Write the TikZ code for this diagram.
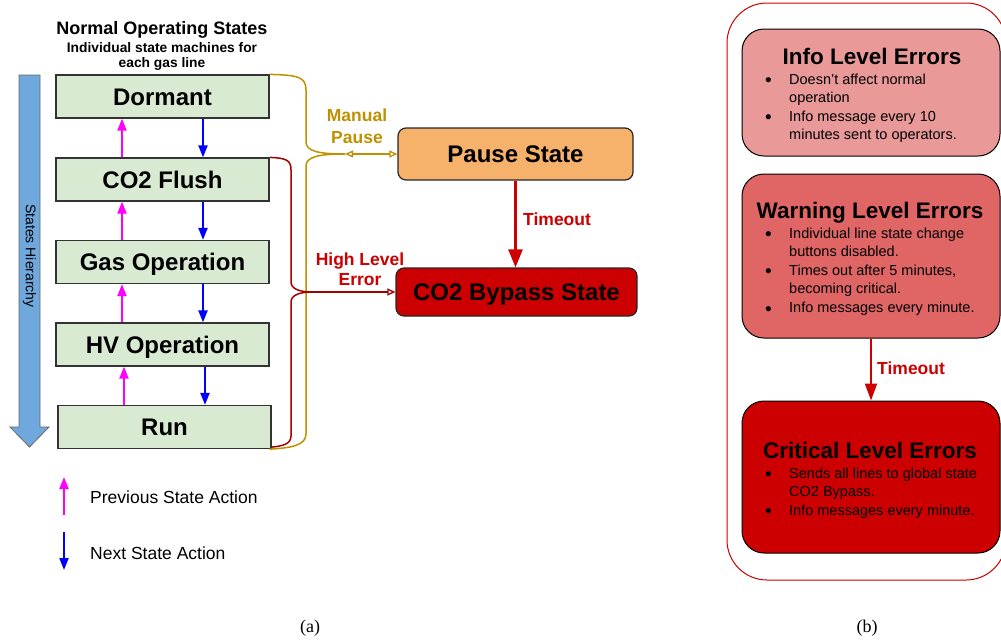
\documentclass[tikz,border=0pt]{standalone}
\usepackage{fontspec}
\setmainfont{Liberation Sans}
\newfontfamily\capserif{Liberation Serif}
\usetikzlibrary{arrows.meta}
\definecolor{boxgreen}{HTML}{D9EAD3}
\definecolor{hierblue}{HTML}{6FA8DC}
\definecolor{pauseorange}{HTML}{F6B26B}
\definecolor{critred}{HTML}{CC0000}
\definecolor{warnred}{HTML}{E06666}
\definecolor{inforose}{HTML}{EA9999}
\definecolor{goldline}{HTML}{BF9000}
\definecolor{bracered}{HTML}{A30000}
\definecolor{prevmag}{HTML}{FF00FF}
\definecolor{nextblue}{HTML}{0000FF}
\newcommand{\bigbul}{\raisebox{-2.6pt}{\fontsize{19}{18.6}\selectfont\textbullet}}
\begin{document}
\begin{tikzpicture}[x=1pt,y=-1pt,
  statebox/.style={draw=black!80, line width=1.2pt, fill=boxgreen, minimum width=213pt, minimum height=43pt, inner sep=0pt, text height=17.5pt, text depth=0pt, font=\fontsize{24}{28}\selectfont\bfseries},
  globalbox/.style={draw=black!85, line width=1.2pt, rounded corners=8pt, inner sep=0pt, text height=17.5pt, text depth=0pt, font=\fontsize{24}{28}\selectfont\bfseries},
  errbox/.style={draw=black, line width=1pt, rounded corners=22pt, minimum width=258pt, inner sep=0pt},
  errtitle/.style={anchor=base, inner sep=0pt, font=\fontsize{22.5}{26}\selectfont\bfseries},
  bullets/.style={anchor=base west, inner sep=0pt, font=\fontsize{14.5}{18.6}\selectfont},
  prevarrow/.style={draw=prevmag, line width=2pt, -{Triangle[length=12pt,width=9pt]}},
  nextarrow/.style={draw=nextblue, line width=2pt, -{Triangle[length=12pt,width=9pt]}},
  lbl/.style={anchor=base, inner sep=0pt, font=\fontsize{17.5}{20}\selectfont\bfseries},
  goldbrace/.style={draw=goldline, line width=1.5pt},
  redbrace/.style={draw=bracered, line width=1.5pt},
  timeoutarrow/.style={draw=critred, line width=2.5pt, -{Triangle[length=18pt,width=14pt]}}
]
\useasboundingbox (0,0) rectangle (1001,641);

% hierarchy arrow
\draw[draw=black!60, fill=hierblue, line width=0.8pt] (19,75) -- (40,75) -- (40,427) -- (49,427) -- (29.5,447) -- (10,427) -- (19,427) -- cycle;
\node[rotate=-90, inner sep=0pt, font=\fontsize{14}{16}\selectfont] (hier) at (29.5,256) {States Hierarchy};

% titles
\node[anchor=base, inner sep=0pt, font=\fontsize{18}{20}\selectfont\bfseries] (title) at (162,34) {Normal Operating States};
\node[anchor=base, inner sep=0pt, font=\fontsize{13.8}{16}\selectfont\bfseries] (sub1) at (162,52) {Individual state machines for};
\node[anchor=base, inner sep=0pt, font=\fontsize{13.8}{16}\selectfont\bfseries] (sub2) at (162,67) {each gas line};

% states
\node[statebox] (dormant) at (162.5,96.5) {Dormant};
\node[statebox] (flush) at (162.5,179.5) {CO2 Flush};
\node[statebox] (gasop) at (162.5,262) {Gas Operation};
\node[statebox] (hvop) at (162.5,344.5) {HV Operation};
\node[statebox] (run) at (164.5,427) {Run};

\draw[prevarrow] ([xshift=-40.5pt]flush.north) -- ([xshift=-40.5pt]dormant.south);
\draw[nextarrow] ([xshift=40.5pt]dormant.south) -- ([xshift=40.5pt]flush.north);
\draw[prevarrow] ([xshift=-40.5pt]gasop.north) -- ([xshift=-40.5pt]flush.south);
\draw[nextarrow] ([xshift=40.5pt]flush.south) -- ([xshift=40.5pt]gasop.north);
\draw[prevarrow] ([xshift=-40.5pt]hvop.north) -- ([xshift=-40.5pt]gasop.south);
\draw[nextarrow] ([xshift=40.5pt]gasop.south) -- ([xshift=40.5pt]hvop.north);
\draw[prevarrow] ([xshift=-40.5pt]run.north) -- ([xshift=-38.5pt]hvop.south);
\draw[nextarrow] ([xshift=42.5pt]hvop.south) -- ([xshift=40.5pt]run.north);

% global states
\node[globalbox, fill=pauseorange, minimum width=235pt, minimum height=52pt] (pause) at (515.5,154) {Pause State};
\node[globalbox, fill=critred, minimum width=241pt, minimum height=48pt] (bypass) at (516.5,292) {CO2 Bypass State};
\draw[timeoutarrow] (pause.south) -- (pause.south |- bypass.north);
\node[lbl, anchor=base west, text=critred] (tlab1) at (523,225) {Timeout};

% braces
\coordinate (gtip) at (345,154);
\coordinate (rtip) at (312,292);
\draw[goldbrace] (dormant.north east) .. controls (298,75) and (306,77) .. (306,90) -- (306,142)
  .. controls (306,151) and (318,154) .. (gtip);
\draw[goldbrace] (gtip) .. controls (318,154) and (306,157) .. (306,166) -- (306,434)
  .. controls (306,445) and (292,448) .. ([xshift=-2pt]run.south east);
\draw[redbrace] (flush.north east) .. controls (286,158) and (291,160) .. (291,170) -- (291,282)
  .. controls (291,289) and (300,292) .. (rtip);
\draw[redbrace] (rtip) .. controls (300,292) and (291,295) .. (291,302) -- (291,436)
  .. controls (291,444) and (283,446) .. ([yshift=2pt]run.south east);
\draw[goldbrace, line width=1.3pt, {Triangle[open,length=8pt,width=7pt]}-{Triangle[open,length=8pt,width=7pt]}] (gtip) -- (pause.west);
\draw[redbrace, line width=1.3pt, -{Triangle[open,length=8pt,width=7pt]}] (rtip) -- (bypass.west);
\node[lbl, text=goldline] (mp1) at (357,121) {Manual};
\node[lbl, text=goldline] (mp2) at (357,143) {Pause};
\node[lbl, text=critred] (he1) at (360,265) {High Level};
\node[lbl, text=critred] (he2) at (360,285) {Error};

% legend
\coordinate (pa) at (64,515);
\coordinate (pb) at (64,477);
\coordinate (na) at (64,532);
\coordinate (nb) at (64,570);
\draw[prevarrow] (pa) -- (pb);
\draw[nextarrow] (na) -- (nb);
\node[anchor=base west, inner sep=0pt, font=\fontsize{17.5}{20}\selectfont] (legp) at (90,503) {Previous State Action};
\node[anchor=base west, inner sep=0pt, font=\fontsize{17.5}{20}\selectfont] (legn) at (90,559) {Next State Action};

% right panel
\draw[draw=critred, line width=1pt, rounded corners=40pt] (727,3) rectangle (1006,580);
\node[errbox, fill=inforose, minimum height=127pt] (info) at (871,92.5) {};
\node[errbox, fill=warnred, minimum height=164pt] (warn) at (871,256) {};
\node[errbox, fill=critred, minimum height=152pt] (crit) at (871,477) {};

\node[errtitle] (infot) at (872,64) {Info Level Errors};
\node[bullets] (infol) at (765,84) {\begin{tabular}[t]{@{}p{24pt}@{}l@{}}\bigbul & Doesn’t affect normal\\ & operation\\ \bigbul & Info message every 10\\ & minutes sent to operators.\end{tabular}};

\node[errtitle] (warnt) at (870,218) {Warning Level Errors};
\node[bullets] (warnl) at (765,238) {\begin{tabular}[t]{@{}p{24pt}@{}l@{}}\bigbul & Individual line state change\\ & buttons disabled.\\ \bigbul & Times out after 5 minutes,\\ & becoming critical.\\ \bigbul & Info messages every minute.\end{tabular}};

\node[errtitle] (critt) at (870,458) {Critical Level Errors};
\node[bullets] (critl) at (765,478) {\begin{tabular}[t]{@{}p{24pt}@{}l@{}}\bigbul & Sends all lines to global state\\ & CO2 Bypass.\\ \bigbul & Info messages every minute.\end{tabular}};

\draw[draw=critred, line width=2pt, -{Triangle[length=17pt,width=12pt]}] (warn.south) -- (crit.north);
\node[lbl, anchor=base west, text=critred] (tlab2) at (877,374) {Timeout};

% captions
\node[anchor=base, inner sep=0pt, font=\capserif\fontsize{18}{22}\selectfont] (capa) at (310,632) {(a)};
\node[anchor=base, inner sep=0pt, font=\capserif\fontsize{18}{22}\selectfont] (capb) at (867,632) {(b)};
\end{tikzpicture}
\end{document}
